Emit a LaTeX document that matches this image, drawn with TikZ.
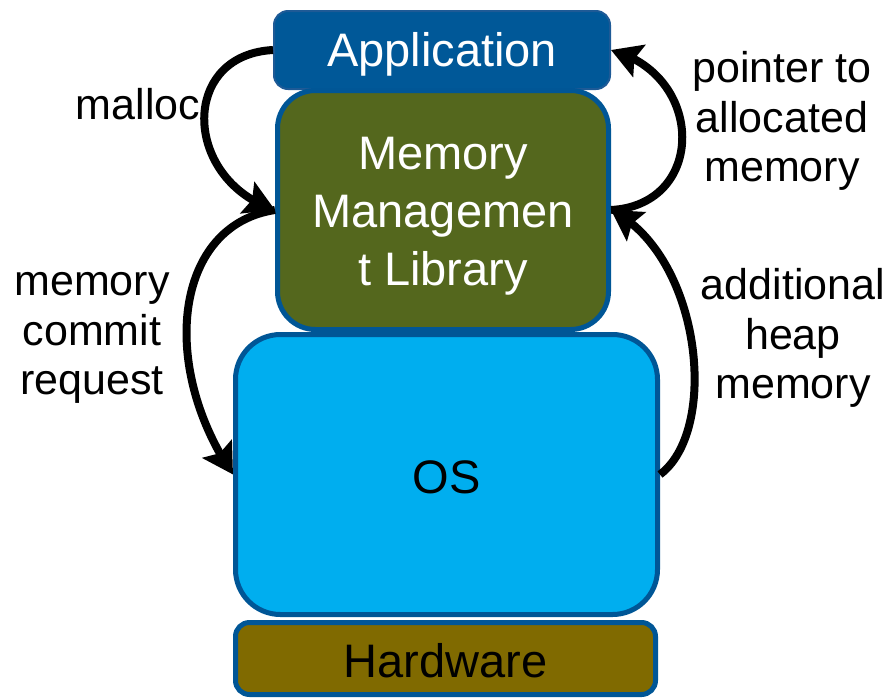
\documentclass[tikz,border=0pt]{standalone}
\usepackage{fontspec}
\setmainfont{Liberation Sans}
\usetikzlibrary{arrows.meta,bending}
\definecolor{appblue}{RGB}{0,88,152}
\definecolor{appedge}{RGB}{30,90,150}
\definecolor{edgeblue}{RGB}{0,86,150}
\definecolor{libolive}{RGB}{84,103,29}
\definecolor{oscyan}{RGB}{0,174,239}
\definecolor{hwgold}{RGB}{128,106,0}
\begin{document}
\begin{tikzpicture}[x=1pt,y=-1pt,
  layer/.style={draw=edgeblue, line width=5pt, rounded corners=#1, inner sep=0pt},
  boxtext/.style={align=center, inner sep=0pt, font=\fontsize{47}{58}\selectfont},
  lbl/.style={align=center, inner sep=0pt, font=\fontsize{43}{49.5}\selectfont},
  flow/.style={line width=8pt, -{Stealth[length=30pt,width=34pt,inset=5pt,flex]}}]
\useasboundingbox (0,0) rectangle (889,697);

% the software stack, top to bottom
\node[layer=14pt, fill=appblue, draw=appedge, line width=2pt,
      minimum width=336pt, minimum height=78pt,
      label={[boxtext, text=white, yshift=-4pt]center:Application}] (app) at (442,50) {};
\node[layer=38pt, fill=libolive, minimum width=331pt, minimum height=239pt,
      label={[boxtext, text=white, yshift=-6pt]center:{Memory\\Managemen\\t Library}}]
      (mml) at (443,210) {};
\node[layer=45pt, fill=oscyan, minimum width=422pt, minimum height=280pt,
      label={[boxtext, yshift=-3pt]center:OS}] (os) at (446.5,474.5) {};
\node[layer=14pt, fill=hwgold, minimum width=420pt, minimum height=72pt,
      label={[boxtext, yshift=-2pt]center:Hardware}] (hw) at (445.5,658.5) {};

% requests and replies between the layers
\draw[flow] (app.west) .. controls +(-94,5) and +(-92,-30) .. (mml.west);
\draw[flow] (mml.west) .. controls +(-100,15) and +(-75,-110) .. (os.west);
\draw[flow] (mml.east) .. controls +(95,-5) and +(95,25) .. (app.east);
\draw[flow] (os.east) .. controls +(60,-45) and +(90,45) .. (mml.east);

% labels
\node[lbl] (lmalloc) at (138,104) {malloc};
\node[lbl] (lcommit) at (92,338) {memory\\commit\\request};
\node[lbl] (lpointer) at (782,121) {pointer to\\allocated\\memory};
\node[lbl] (lheap) at (793,338) {additional\\heap\\memory};
\end{tikzpicture}
\end{document}
